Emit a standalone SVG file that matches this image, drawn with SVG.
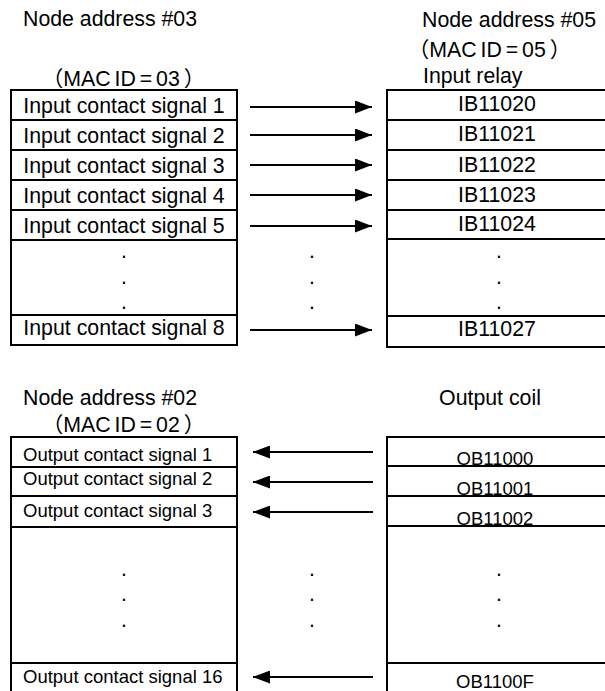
<svg xmlns="http://www.w3.org/2000/svg" width="605" height="691" viewBox="0 0 605 691">
<defs>
<style>
text{font-family:"Liberation Sans","Noto Sans CJK JP",Arial,sans-serif;fill:#000}
.L{font-size:21.3px}
.S{font-size:18.5px}
.m{text-anchor:middle}
.mac{word-spacing:-2px}
.box{fill:#fff;stroke:#000;stroke-width:2}
.ln{stroke:#000;stroke-width:2;fill:none}
.conn{stroke:#000;stroke-width:2;fill:none}
</style>
<marker id="ah" viewBox="0 0 17 13" refX="17" refY="6.5" markerWidth="17" markerHeight="13" markerUnits="userSpaceOnUse" orient="auto">
<path d="M0,0 L17,6.5 L0,13 Z" fill="#000"/>
</marker>
</defs>
<rect width="605" height="691" fill="#fff"/>

<g id="node03">
<text class="L" x="23" y="26">Node address #03</text>
<text class="L mac" x="42" y="86">（MAC ID = 03 ）</text>
<rect class="box" x="11" y="90" width="226" height="255"/>
<path class="ln" d="M11,120H237M11,150H237M11,180H237M11,210H237M11,240H237M11,315H237"/>
<text class="L m" x="124" y="113">Input contact signal 1</text>
<text class="L m" x="124" y="143">Input contact signal 2</text>
<text class="L m" x="124" y="173">Input contact signal 3</text>
<text class="L m" x="124" y="203">Input contact signal 4</text>
<text class="L m" x="124" y="233">Input contact signal 5</text>
<text class="L m" x="124" y="258">.</text>
<text class="L m" x="124" y="284">.</text>
<text class="L m" x="124" y="309">.</text>
<text class="L m" x="124" y="335">Input contact signal 8</text>
</g>

<g id="node05">
<text class="L" x="422" y="27">Node address #05</text>
<text class="L mac" x="408" y="57">（MAC ID = 05 ）</text>
<text class="L" x="423" y="83">Input relay</text>
<rect class="box" x="387" y="90" width="222" height="257"/>
<path class="ln" d="M387,120H609M387,150H609M387,180H609M387,210H609M387,239H609M387,316H609"/>
<text class="L m" x="497" y="111">IB11020</text>
<text class="L m" x="497" y="141">IB11021</text>
<text class="L m" x="497" y="172">IB11022</text>
<text class="L m" x="497" y="202">IB11023</text>
<text class="L m" x="497" y="231">IB11024</text>
<text class="L m" x="499" y="258">.</text>
<text class="L m" x="499" y="284">.</text>
<text class="L m" x="499" y="309">.</text>
<text class="L m" x="497" y="336">IB11027</text>
</g>

<g id="node02">
<text class="L" x="23" y="405">Node address #02</text>
<text class="L mac" x="42" y="432">（MAC ID = 02 ）</text>
<rect class="box" x="11" y="437" width="226" height="270"/>
<path class="ln" d="M11,467H237M11,496H237M11,527H237M11,663H237"/>
<text class="S" x="23" y="461">Output contact signal 1</text>
<text class="S" x="23" y="485">Output contact signal 2</text>
<text class="S" x="23" y="517">Output contact signal 3</text>
<text class="L m" x="124" y="576">.</text>
<text class="L m" x="124" y="601">.</text>
<text class="L m" x="124" y="627">.</text>
<text class="S" x="23" y="683">Output contact signal 16</text>
</g>

<g id="outputcoil">
<text class="L m" x="490" y="405">Output coil</text>
<rect class="box" x="387" y="437" width="222" height="270"/>
<path class="ln" d="M387,466H609M387,496H609M387,526H609M387,663H609"/>
<text class="S m" x="495" y="465">OB11000</text>
<text class="S m" x="495" y="495">OB11001</text>
<text class="S m" x="495" y="525">OB11002</text>
<text class="L m" x="499" y="576">.</text>
<text class="L m" x="499" y="601">.</text>
<text class="L m" x="499" y="627">.</text>
<text class="S m" x="495" y="688">OB1100F</text>
</g>

<g id="middle-dots">
<text class="L m" x="312" y="258">.</text>
<text class="L m" x="312" y="284">.</text>
<text class="L m" x="312" y="309">.</text>
<text class="L m" x="312" y="576">.</text>
<text class="L m" x="312" y="601">.</text>
<text class="L m" x="312" y="627">.</text>
</g>

<g id="connectors">
<line class="conn" x1="250" y1="107" x2="372" y2="107" marker-end="url(#ah)"/>
<line class="conn" x1="250" y1="135" x2="372" y2="135" marker-end="url(#ah)"/>
<line class="conn" x1="250" y1="165" x2="372" y2="165" marker-end="url(#ah)"/>
<line class="conn" x1="250" y1="195" x2="372" y2="195" marker-end="url(#ah)"/>
<line class="conn" x1="250" y1="226" x2="372" y2="226" marker-end="url(#ah)"/>
<line class="conn" x1="250" y1="330" x2="372" y2="330" marker-end="url(#ah)"/>
<line class="conn" x1="373" y1="452" x2="253" y2="452" marker-end="url(#ah)"/>
<line class="conn" x1="373" y1="482" x2="253" y2="482" marker-end="url(#ah)"/>
<line class="conn" x1="373" y1="512" x2="253" y2="512" marker-end="url(#ah)"/>
<line class="conn" x1="373" y1="677" x2="253" y2="677" marker-end="url(#ah)"/>
</g>
</svg>
